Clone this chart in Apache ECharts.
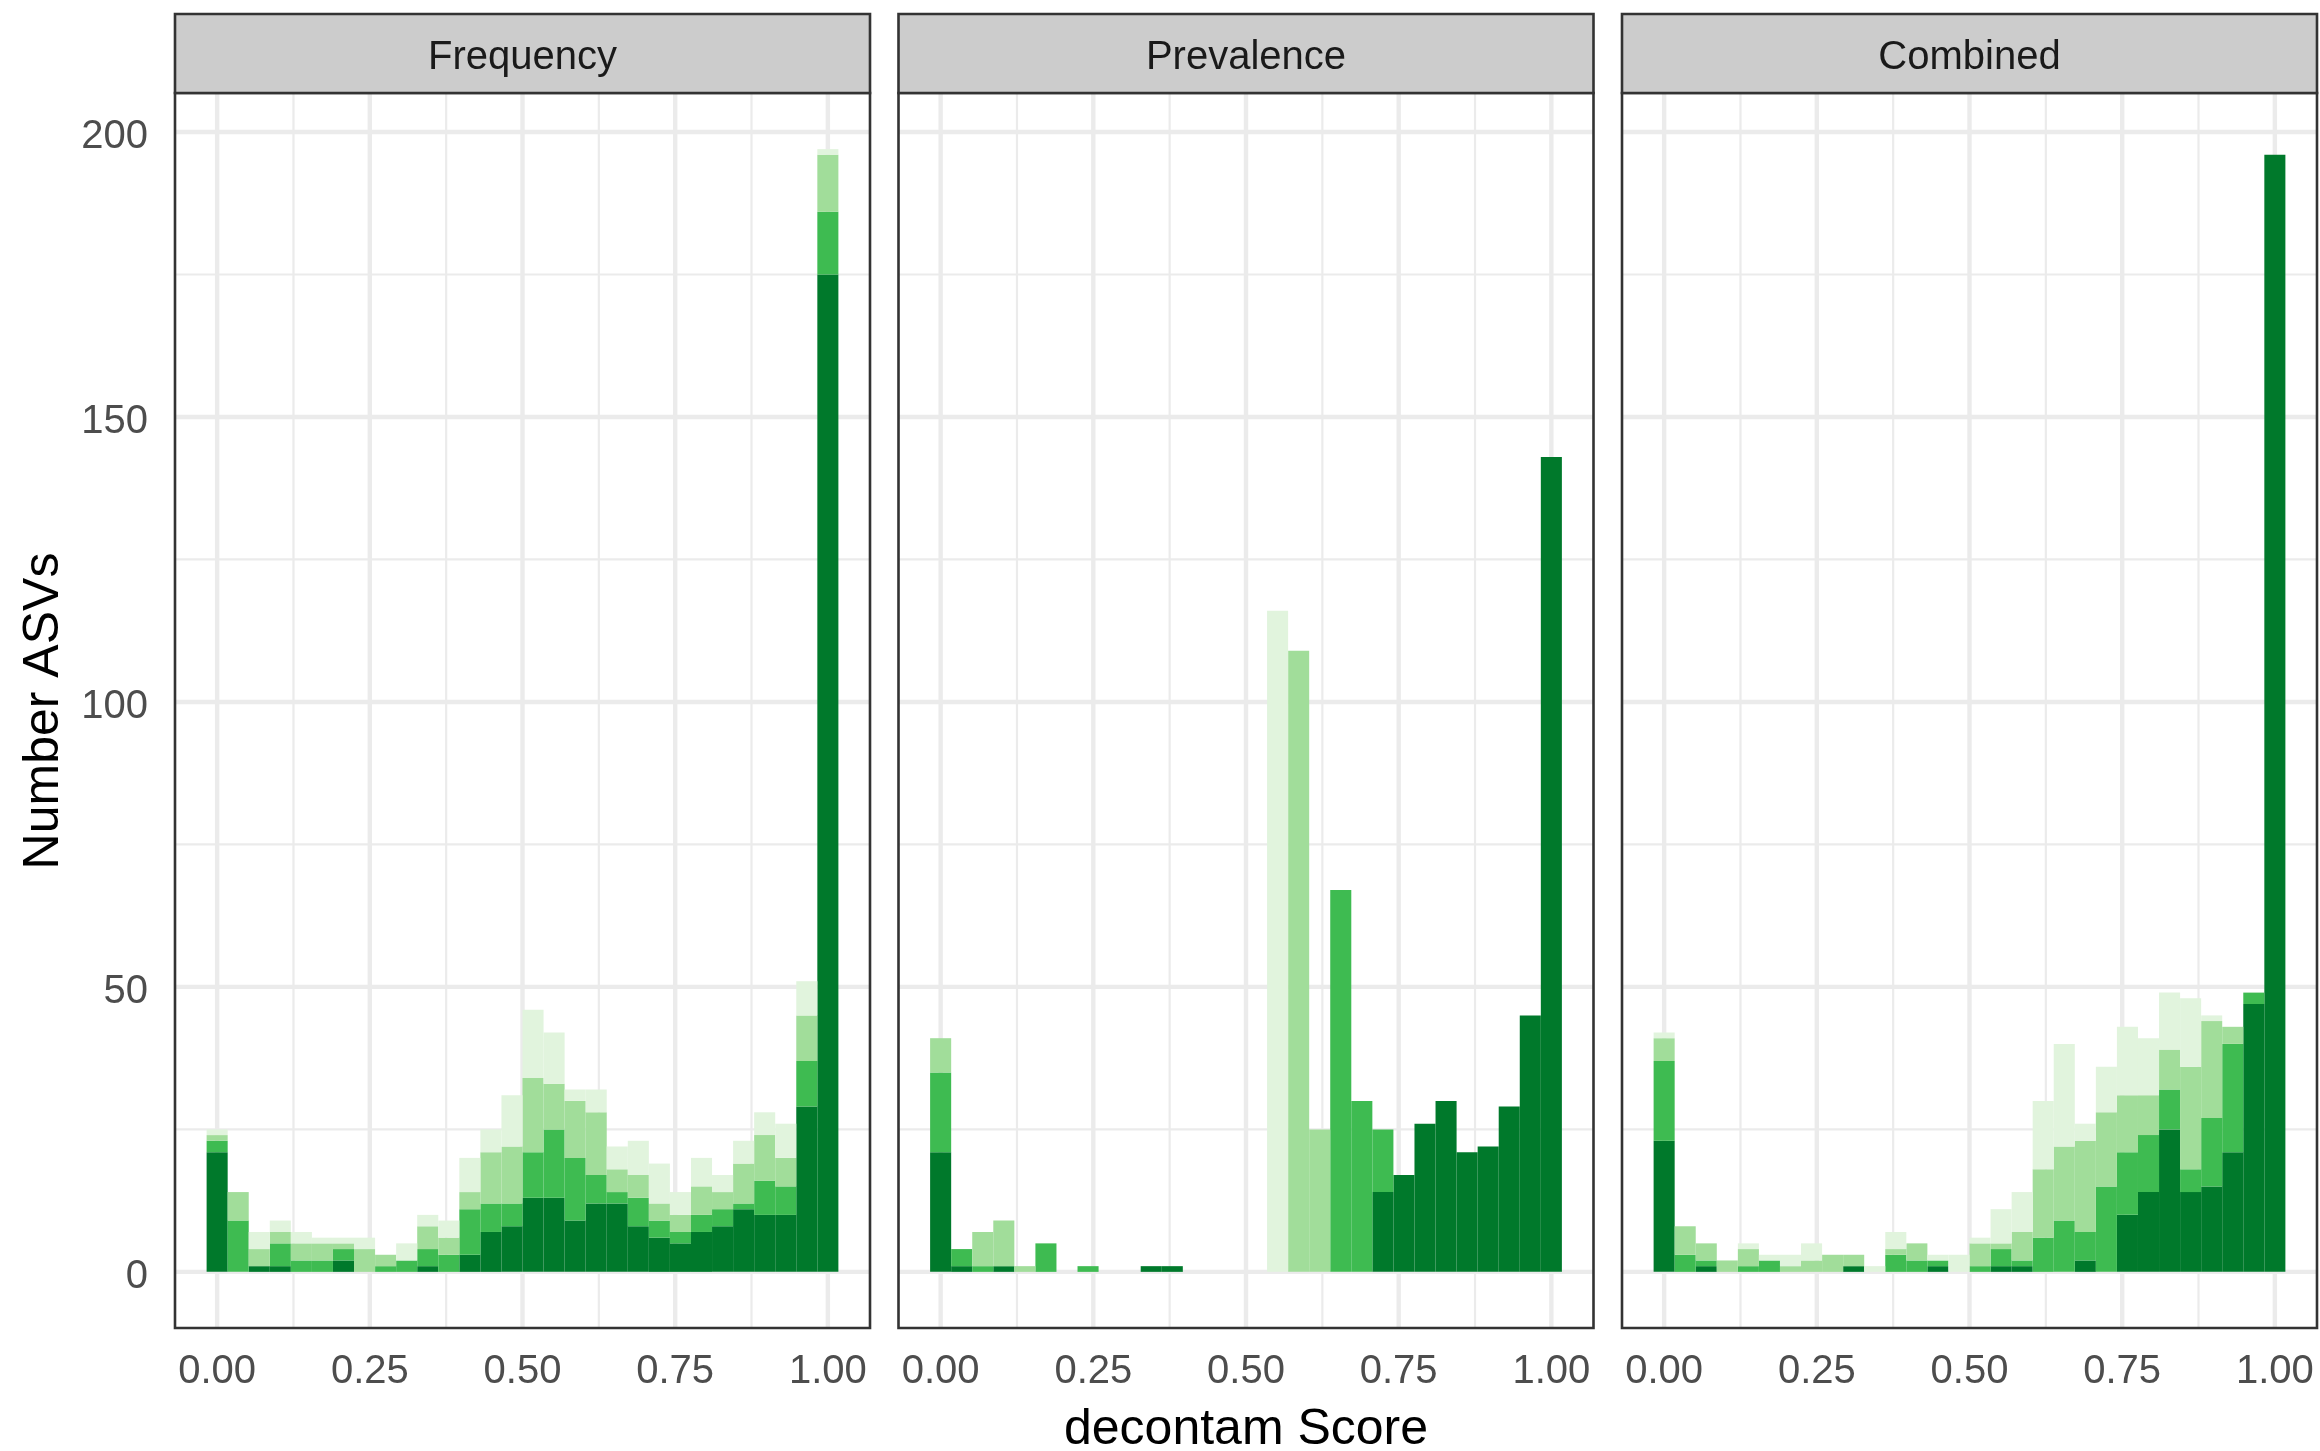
<!DOCTYPE html>
<html>
<head>
<meta charset="utf-8">
<title>decontam Score histograms</title>
<script src="https://cdn.jsdelivr.net/npm/echarts@6/dist/echarts.min.js"></script>
<style>
  html, body { margin: 0; padding: 0; background: #ffffff; }
  #chart { width: 2320px; height: 1451px; }
</style>
</head>
<body>
<div id="chart"></div>
<script>
// Facet titles
const panelNames = ['Frequency', 'Prevalence', 'Combined'];

// Histogram layout: 30 bins centred on 0, 1/29, ..., 1
const binCount = 30;
const binWidth = 1 / (binCount - 1);

// Axis ticks
const xTicks = [0, 0.25, 0.5, 0.75, 1];
const xMinorTicks = [0.125, 0.375, 0.625, 0.875];
const yTicks = [0, 50, 100, 150, 200];
const yMinorTicks = [25, 75, 125, 175];

// Counts per bin, one array per fill group (darkest is stacked at the bottom)
const freqDark     = [21, 0, 1, 1, 0, 0, 2, 0, 0, 0, 1, 0, 3, 7, 8, 13, 13, 9, 12, 12, 8, 6, 5, 7, 8, 11, 10, 10, 29, 175];
const freqMid      = [2, 9, 0, 4, 2, 2, 2, 0, 1, 2, 3, 3, 8, 5, 4, 8, 12, 11, 5, 2, 5, 3, 2, 3, 3, 1, 6, 5, 8, 11];
const freqLight    = [1, 5, 3, 2, 3, 3, 1, 4, 2, 0, 4, 3, 3, 9, 10, 13, 8, 10, 11, 4, 4, 3, 3, 5, 3, 7, 8, 5, 8, 10];
const freqLightest = [1, 0, 3, 2, 2, 1, 1, 2, 0, 3, 2, 3, 6, 4, 9, 12, 9, 2, 4, 4, 6, 7, 4, 5, 3, 4, 4, 6, 6, 1];

const prevDark     = [21, 1, 0, 1, 0, 0, 0, 0, 0, 0, 1, 1, 0, 0, 0, 0, 0, 0, 0, 0, 0, 14, 17, 26, 30, 21, 22, 29, 45, 143];
const prevMid      = [14, 3, 1, 0, 0, 5, 0, 1, 0, 0, 0, 0, 0, 0, 0, 0, 0, 0, 0, 67, 30, 11, 0, 0, 0, 0, 0, 0, 0, 0];
const prevLight    = [6, 0, 6, 8, 1, 0, 0, 0, 0, 0, 0, 0, 0, 0, 0, 0, 0, 109, 25, 0, 0, 0, 0, 0, 0, 0, 0, 0, 0, 0];
const prevLightest = [0, 0, 0, 0, 0, 0, 0, 0, 0, 0, 0, 0, 0, 0, 0, 0, 116, 0, 0, 0, 0, 0, 0, 0, 0, 0, 0, 0, 0, 0];

const combDark     = [23, 0, 1, 0, 0, 0, 0, 0, 0, 1, 0, 0, 0, 1, 0, 0, 1, 1, 0, 0, 2, 0, 10, 14, 25, 14, 15, 21, 47, 196];
const combMid      = [14, 3, 1, 0, 1, 2, 0, 0, 0, 0, 0, 3, 2, 1, 0, 1, 3, 1, 6, 9, 5, 15, 11, 10, 7, 4, 12, 19, 2, 0];
const combLight    = [4, 5, 3, 2, 3, 0, 1, 2, 3, 2, 0, 1, 3, 0, 0, 4, 1, 5, 12, 13, 16, 13, 10, 7, 7, 18, 17, 3, 0, 0];
const combLightest = [1, 0, 0, 0, 1, 1, 2, 3, 0, 0, 1, 3, 0, 1, 3, 1, 6, 7, 12, 18, 3, 8, 12, 10, 10, 12, 1, 0, 0, 0];

const panelLayers = [
  [freqDark, freqMid, freqLight, freqLightest],
  [prevDark, prevMid, prevLight, prevLightest],
  [combDark, combMid, combLight, combLightest]
];
const layerColors = ['#00792b', '#3ebb51', '#a1dd9a', '#e1f4dd'];

// Panel geometry
const panelLefts = [175, 898.5, 1622];
const panelWidth = 695;
const panelTop = 93;
const panelHeight = 1235;
const stripTop = 14;
const stripHeight = 79;

const xRange = [-0.069, 1.069];
const yRange = [-9.85, 206.85];

const FONT = "'Liberation Sans', Arial, Helvetica, sans-serif";

// Stacked rectangles [x0, x1, y0, y1] for one layer of one panel
function stackedRects(layers, layerIndex) {
  const out = [];
  for (let i = 0; i < binCount; i++) {
    let base = 0;
    for (let k = 0; k < layerIndex; k++) base += layers[k][i];
    const h = layers[layerIndex][i];
    if (h > 0) {
      const c = i * binWidth;
      out.push([c - binWidth / 2, c + binWidth / 2, base, base + h]);
    }
  }
  return out;
}

function barRenderer(color) {
  return function (params, api) {
    const p0 = api.coord([api.value(0), api.value(2)]);
    const p1 = api.coord([api.value(1), api.value(3)]);
    return {
      type: 'rect',
      shape: { x: p0[0], y: p1[1], width: p1[0] - p0[0], height: p0[1] - p1[1] },
      style: { fill: color }
    };
  };
}

// Background grid lines: kind 0 = major vertical, 1 = minor vertical,
// 2 = major horizontal, 3 = minor horizontal
const gridLineData = []
  .concat(xTicks.map(v => [v, 0]))
  .concat(xMinorTicks.map(v => [v, 1]))
  .concat(yTicks.map(v => [v, 2]))
  .concat(yMinorTicks.map(v => [v, 3]));

function gridRenderer(params, api) {
  const cs = params.coordSys;
  const v = api.value(0);
  const kind = api.value(1);
  const w = (kind % 2 === 0) ? 4.4 : 2.2;
  if (kind < 2) {
    const x = api.coord([v, 0])[0];
    return { type: 'line', shape: { x1: x, y1: cs.y, x2: x, y2: cs.y + cs.height },
             style: { stroke: '#ebebeb', lineWidth: w } };
  }
  const y = api.coord([0, v])[1];
  return { type: 'line', shape: { x1: cs.x, y1: y, x2: cs.x + cs.width, y2: y },
           style: { stroke: '#ebebeb', lineWidth: w } };
}

const grids = [], xAxes = [], yAxes = [], series = [], graphics = [];

panelNames.forEach((name, p) => {
  grids.push({ left: panelLefts[p], top: panelTop, width: panelWidth, height: panelHeight, show: false });

  xAxes.push({
    gridIndex: p, type: 'value', min: xRange[0], max: xRange[1],
    axisLine: { show: false },
    splitLine: { show: false },
    axisTick: { show: true, customValues: xTicks, length: 14, lineStyle: { color: '#333333', width: 2.6 } },
    axisLabel: { show: true, customValues: xTicks, margin: 24, color: '#4d4d4d', fontSize: 40, fontFamily: FONT,
                 formatter: v => v.toFixed(2) }
  });

  yAxes.push({
    gridIndex: p, type: 'value', min: yRange[0], max: yRange[1],
    axisLine: { show: false },
    splitLine: { show: false },
    axisTick: { show: p === 0, customValues: yTicks, length: 14, lineStyle: { color: '#333333', width: 2.6 } },
    axisLabel: {
      show: p === 0, customValues: yTicks, margin: 27,
      formatter: v => '{n|' + v + '}',
      rich: { n: { color: '#4d4d4d', fontSize: 40, fontFamily: FONT, padding: [10, 0, 0, 0] } }
    }
  });

  series.push({
    type: 'custom', xAxisIndex: p, yAxisIndex: p, silent: true, z: 1,
    renderItem: gridRenderer, data: gridLineData, encode: { x: 0, y: 0 }
  });

  panelLayers[p].forEach((layer, k) => {
    series.push({
      type: 'custom', name: name + ' ' + k, xAxisIndex: p, yAxisIndex: p, z: 2,
      renderItem: barRenderer(layerColors[k]),
      data: stackedRects(panelLayers[p], k),
      encode: { x: [0, 1], y: [2, 3] }
    });
  });

  // Panel border
  graphics.push({
    type: 'rect', z: 100, silent: true,
    shape: { x: panelLefts[p], y: panelTop, width: panelWidth, height: panelHeight },
    style: { fill: null, stroke: '#333333', lineWidth: 2.6 }
  });
  // Facet strip
  graphics.push({
    type: 'rect', z: 100, silent: true,
    shape: { x: panelLefts[p], y: stripTop, width: panelWidth, height: stripHeight },
    style: { fill: '#cccccc', stroke: '#333333', lineWidth: 2.6 }
  });
  graphics.push({
    type: 'text', z: 101, silent: true,
    x: panelLefts[p] + panelWidth / 2, y: stripTop + stripHeight / 2 + 4,
    style: { text: name, fill: '#1a1a1a', fontSize: 40, fontFamily: FONT, align: 'center', verticalAlign: 'middle' }
  });
});

// Axis titles
graphics.push({
  type: 'text', z: 101, silent: true,
  x: 1246, y: 1430,
  style: { text: 'decontam Score', fill: '#000000', fontSize: 50, fontFamily: FONT, align: 'center', verticalAlign: 'middle' }
});
graphics.push({
  type: 'text', z: 101, silent: true,
  x: 44, y: 711, rotation: Math.PI / 2,
  style: { text: 'Number ASVs', fill: '#000000', fontSize: 50, fontFamily: FONT, align: 'center', verticalAlign: 'middle' }
});

const chart = echarts.init(document.getElementById('chart'), null, { renderer: 'canvas' });
chart.setOption({
  animation: false,
  backgroundColor: '#ffffff',
  grid: grids,
  xAxis: xAxes,
  yAxis: yAxes,
  series: series,
  graphic: graphics
});
</script>
</body>
</html>
